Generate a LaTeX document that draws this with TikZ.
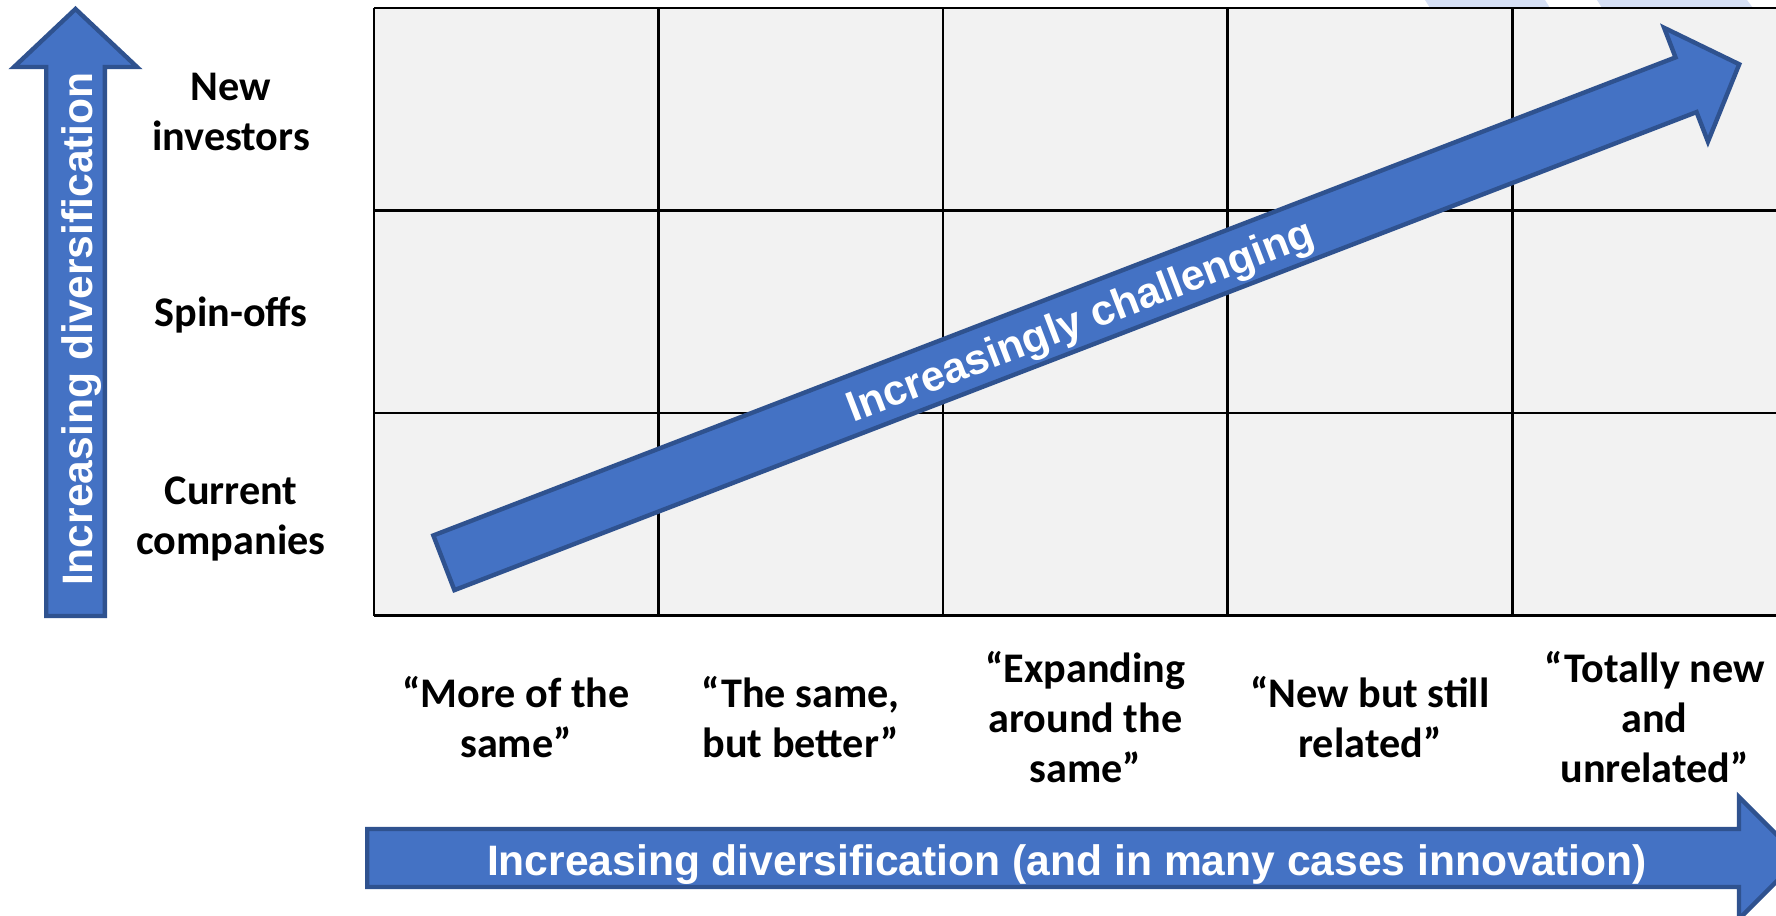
\documentclass[tikz,border=0pt]{standalone}
\usepackage{fontspec}
\setmainfont{Carlito}
\newfontfamily\arrowfont{Liberation Sans}
\usepackage{xcolor}

\definecolor{arrowblue}{HTML}{4472C4}
\definecolor{arrowrim}{HTML}{2F528F}
\definecolor{cellgray}{HTML}{F2F2F2}
\definecolor{faintblue}{HTML}{D6E0F5}

\begin{document}
\begin{tikzpicture}[x=0.5pt,y=-0.5pt]
\tikzset{gridline/.style={line width=1.3pt,black}}
\tikzset{blockarrow/.style={fill=arrowblue,draw=arrowrim,line width=2.2pt,line join=miter}}
\tikzset{arrowlabel/.style={text=white,inner sep=0pt,font=\arrowfont\bfseries\fontsize{21.3}{25}\selectfont}}
\tikzset{axislabel/.style={align=center,inner sep=0pt,font=\bfseries\fontsize{21.1}{25}\selectfont}}

\useasboundingbox (0,0) rectangle (1776,915);
\clip (0,0) rectangle (1776,915);

% shapes peeking in at the top edge
\fill[faintblue] (1425,0) -- (1545,0) -- (1550,8) -- (1430,8) -- cycle;
\fill[faintblue] (1597,0) -- (1747,0) -- (1753,8) -- (1602,8) -- cycle;

% the grid
\fill[cellgray] (373.8,8) rectangle (1797,615.5);
\foreach \i in {0,...,5}
  \draw[gridline] (373.8+284.6*\i,8) -- (373.8+284.6*\i,615.5);
\foreach \j in {0,...,3}
  \draw[gridline] (373.8,8+202.5*\j) -- (1797,8+202.5*\j);

% rows
\node[axislabel] (newinv) at (231,111.5) {New\\investors};
\node[axislabel] (spinoff) at (231,314.5) {Spin-offs};
\node[axislabel] (current) at (231,518.5) {Current\\companies};

% columns
\foreach \k/\txt in {1/{“More of the\\same”},2/{“The same,\\but better”},3/{“Expanding\\around the\\same”},4/{“New but still\\related”},5/{“Totally new\\and\\unrelated”}}
  \node[axislabel] (col\k) at (373.8+284.6*\k-142.3,717) {\txt};

% vertical arrow
\draw[blockarrow] (46.2,616) -- (46.2,67) -- (14,67) -- (75.5,9) -- (137,67) -- (104.8,67) -- (104.8,616) -- cycle;
\node[arrowlabel,rotate=90,anchor=base] (vlabel) at (92,329) {Increasing diversification};

% horizontal arrow
\draw[blockarrow] (367.2,829) -- (1739,829) -- (1739,797) -- (1800,858) -- (1739,919) -- (1739,887) -- (367.2,887) -- cycle;
\node[arrowlabel,anchor=base] (hlabel) at (1067,875) {Increasing diversification (and in many cases innovation)};

% diagonal arrow
\begin{scope}[shift={(442,563.5)},rotate=21.05]
\draw[blockarrow] (2,29.3) -- (1333,29.3) -- (1333,61) -- (1390,0) -- (1333,-61) -- (1333,-29.3) -- (2,-29.3) -- cycle;
\node[arrowlabel,rotate=21.05] (dlabel) at (683,5) {Increasingly challenging};
\end{scope}

\end{tikzpicture}
\end{document}
